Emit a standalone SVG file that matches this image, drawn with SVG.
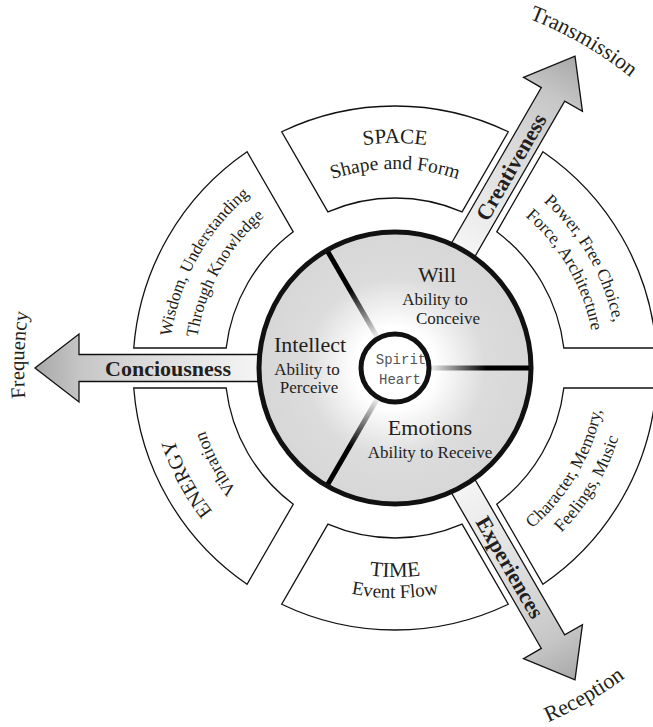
<svg xmlns="http://www.w3.org/2000/svg" width="653" height="727" viewBox="0 0 653 727">
<style>
.seg{fill:#fff;stroke:#111;stroke-width:1.3}
.t{font-family:"Liberation Serif","Times New Roman",serif;fill:#231f20}
.big{font-size:22px}
.sm{font-size:17px}
.ring{font-size:17.5px}
.lab{font-size:22px}
.arr{fill:url(#ag);stroke:#111;stroke-width:1.3}
.bold{font-family:"Liberation Serif","Times New Roman",serif;font-weight:bold;font-size:22px;fill:#231f20}
.div{stroke:url(#dg);stroke-width:5;fill:none}
.mono{font-family:"Liberation Mono","DejaVu Sans Mono",monospace;font-size:14px;fill:#555}
</style>
<defs>
<linearGradient id="ag" gradientUnits="userSpaceOnUse" x1="130" y1="0" x2="360" y2="0">
<stop offset="0" stop-color="#f6f6f6"/>
<stop offset="0.55" stop-color="#d9d9d9"/>
<stop offset="0.8" stop-color="#c6c6c6"/>
<stop offset="1" stop-color="#a8a8a8"/>
</linearGradient>
<linearGradient id="dg" gradientUnits="userSpaceOnUse" x1="36" y1="0" x2="136" y2="0">
<stop offset="0" stop-color="#eeeeee"/>
<stop offset="0.55" stop-color="#000"/>
<stop offset="1" stop-color="#000"/>
</linearGradient>
<radialGradient id="cg" gradientUnits="userSpaceOnUse" cx="395" cy="368" r="136">
<stop offset="0" stop-color="#fff"/>
<stop offset="0.3" stop-color="#fff"/>
<stop offset="0.66" stop-color="#dcdcdc"/>
<stop offset="1" stop-color="#d7d7d7"/>
</radialGradient>
<path id="pSpace" d="M200.14,255.5 A225,225 0 0 1 589.86,255.5"/>
<path id="pShape" d="M222.66,268.5 A199,199 0 0 1 567.34,268.5"/>
<path id="pPow1" d="M395,145 A223,223 0 0 1 588.12,479.5"/>
<path id="pPow2" d="M395,168 A200,200 0 0 1 568.21,468"/>
<path id="pWis1" d="M201.28,484.4 A226,226 0 0 1 391.06,142.03"/>
<path id="pWis2" d="M223.57,471.01 A200,200 0 0 1 391.51,168.03"/>
<path id="pEn1" d="M386.9,599.86 A232,232 0 0 1 198.25,245.06"/>
<path id="pEn2" d="M388.02,567.88 A200,200 0 0 1 225.39,262.02"/>
<path id="pTime" d="M214,472.5 A209,209 0 0 0 576,472.5"/>
<path id="pEvent" d="M195.81,483 A230,230 0 0 0 594.19,483"/>
<path id="pCh1" d="M393.16,578.99 A211,211 0 0 0 578.65,264.1"/>
<path id="pCh2" d="M390.92,601.96 A234,234 0 0 0 599.66,254.55"/>
<path id="pTrans" d="M208,44.1 A374,374 0 0 1 769,368"/>
<path id="pRec" d="M202,702.3 A386,386 0 0 0 781,368"/>
<path id="pFreq" d="M198.4,682.63 A371,371 0 0 1 220.83,40.43"/>
</defs>
<rect width="653" height="727" fill="#fff"/>

<g id="seg-power">
<path class="seg" d="M656.24,348 A262,262 0 0 0 542.94,151.76 L496.73,231.8 A170,170 0 0 1 563.82,348 Z"/>
<text class="t ring"><textPath href="#pPow1" startOffset="50%" text-anchor="middle">Power, Free Choice,</textPath></text>
<text class="t ring"><textPath href="#pPow2" startOffset="50%" text-anchor="middle">Force, Architecture</textPath></text>
</g>
<g id="seg-space">
<path class="seg" d="M508.3,131.76 A262,262 0 0 0 281.7,131.76 L327.91,211.8 A170,170 0 0 1 462.09,211.8 Z"/>
<text class="t" font-size="21"><textPath href="#pSpace" startOffset="50%" text-anchor="middle">SPACE</textPath></text>
<text class="t" font-size="19.5"><textPath href="#pShape" startOffset="50%" text-anchor="middle">Shape and Form</textPath></text>
</g>
<g id="seg-wisdom">
<path class="seg" d="M247.06,151.76 A262,262 0 0 0 133.76,348 L226.18,348 A170,170 0 0 1 293.27,231.8 Z"/>
<text class="t sm"><textPath href="#pWis1" startOffset="50%" text-anchor="middle">Wisdom, Understanding</textPath></text>
<text class="t sm"><textPath href="#pWis2" startOffset="50%" text-anchor="middle">Through Knowledge</textPath></text>
</g>
<g id="seg-energy">
<path class="seg" d="M133.76,388 A262,262 0 0 0 247.06,584.24 L293.27,504.2 A170,170 0 0 1 226.18,388 Z"/>
<text class="t" font-size="20.5"><textPath href="#pEn1" startOffset="50%" text-anchor="middle">ENERGY</textPath></text>
<text class="t" font-size="18"><textPath href="#pEn2" startOffset="50%" text-anchor="middle">Vibration</textPath></text>
</g>
<g id="seg-time">
<path class="seg" d="M281.7,604.24 A262,262 0 0 0 508.3,604.24 L462.09,524.2 A170,170 0 0 1 327.91,524.2 Z"/>
<text class="t" font-size="21"><textPath href="#pTime" startOffset="50%" text-anchor="middle">TIME</textPath></text>
<text class="t" font-size="19"><textPath href="#pEvent" startOffset="50%" text-anchor="middle">Event Flow</textPath></text>
</g>
<g id="seg-character">
<path class="seg" d="M542.94,584.24 A262,262 0 0 0 656.24,388 L563.82,388 A170,170 0 0 1 496.73,504.2 Z"/>
<text class="t ring"><textPath href="#pCh1" startOffset="50%" text-anchor="middle">Character, Memory,</textPath></text>
<text class="t ring"><textPath href="#pCh2" startOffset="50%" text-anchor="middle">Feelings, Music</textPath></text>
</g>

<g id="connectors">
<g id="arrow-creativeness" transform="translate(395,368) rotate(-60)">
<polygon class="arr" points="125,-13.5 316,-13.5 316,-34 360,0 316,34 316,13.5 125,13.5"/>
<text class="bold" x="232" y="7.5" text-anchor="middle">Creativeness</text>
</g>
<g id="arrow-conciousness" transform="translate(395,368) rotate(180)">
<polygon class="arr" points="125,-13.5 316,-13.5 316,-34 360,0 316,34 316,13.5 125,13.5"/>
</g>
<text class="bold" x="168" y="375.5" text-anchor="middle">Conciousness</text>
<g id="arrow-experiences" transform="translate(395,368) rotate(60)">
<polygon class="arr" points="125,-13.5 316,-13.5 316,-34 360,0 316,34 316,13.5 125,13.5"/>
<text class="bold" x="230" y="7.5" text-anchor="middle">Experiences</text>
</g>
<text class="t lab"><textPath href="#pTrans" startOffset="50%" text-anchor="middle">Transmission</textPath></text>
<text class="t lab"><textPath href="#pRec" startOffset="50%" text-anchor="middle">Reception</textPath></text>
<text class="t" font-size="20.5"><textPath href="#pFreq" startOffset="50%" text-anchor="middle">Frequency</textPath></text>
</g>

<g id="core">
<circle cx="395" cy="368" r="136" fill="url(#cg)" stroke="#111" stroke-width="5"/>
<g transform="translate(395,368)">
<line class="div" x1="36" y1="0" x2="134" y2="0"/>
<line class="div" x1="36" y1="0" x2="134" y2="0" transform="rotate(-120)"/>
<line class="div" x1="36" y1="0" x2="134" y2="0" transform="rotate(120)"/>
</g>
</g>
<g id="node-will">
<text class="t big" x="437" y="282" text-anchor="middle">Will</text>
<text class="t sm" x="435" y="305" text-anchor="middle">Ability to</text>
<text class="t sm" x="448" y="324" text-anchor="middle">Conceive</text>
</g>
<g id="node-intellect">
<text class="t big" x="310" y="352" text-anchor="middle">Intellect</text>
<text class="t sm" x="307" y="375" text-anchor="middle">Ability to</text>
<text class="t sm" x="309" y="393" text-anchor="middle">Perceive</text>
</g>
<g id="node-emotions">
<text class="t big" x="430" y="435" text-anchor="middle">Emotions</text>
<text class="t sm" x="430" y="458" text-anchor="middle">Ability to Receive</text>
</g>
<g id="node-spirit">
<circle cx="395" cy="368" r="34" fill="#fff" stroke="#111" stroke-width="5"/>
<text class="mono" x="401" y="364" text-anchor="middle">Spirit</text>
<text class="mono" x="400" y="384" text-anchor="middle">Heart</text>
</g>
</svg>
